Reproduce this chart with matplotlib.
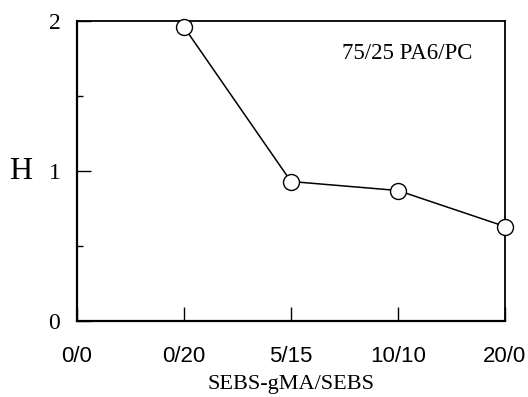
import matplotlib.pyplot as plt
import numpy as np

ratios = ['0/0', '0/20', '5/15', '10/10', '20/0']
x_pos = [1, 2, 3, 4]
h_values = [1.96, 0.93, 0.87, 0.63]

fig = plt.figure(figsize=(5.28, 3.97), dpi=100)
ax = fig.add_axes([0.1458, 0.1914, 0.8106, 0.7557])

ax.plot(x_pos, h_values, color='black', lw=1.1, marker='o', ms=11.5,
        mfc='white', mec='black', mew=1.0, clip_on=False, zorder=5)

ax.set_xlim(0, 4)
ax.set_ylim(0, 2)
ax.set_xticks(range(len(ratios)))
ax.set_xticklabels(ratios, fontfamily='Liberation Sans', fontsize=16)
ax.set_yticks([0, 1, 2])
ax.set_yticklabels(['0', '1', '2'], fontfamily='Liberation Serif', fontsize=17)
ax.set_yticks([0.5, 1.5], minor=True)

ax.tick_params(axis='x', direction='in', length=10, width=1, pad=18)
ax.tick_params(axis='y', which='major', direction='in', length=10, width=1, pad=12)
ax.tick_params(axis='y', which='minor', direction='in', length=4, width=1)

for side in ['left', 'bottom']:
    ax.spines[side].set_linewidth(1.6)
for side in ['top', 'right']:
    ax.spines[side].set_linewidth(1.3)

ax.set_xlabel('SEBS-gMA/SEBS', fontfamily='Liberation Serif', fontsize=16, labelpad=6)
ax.set_ylabel('H', fontfamily='Liberation Serif', fontsize=23, rotation=0,
              ha='center', va='center')
ax.yaxis.set_label_coords(-0.131, 0.5)

ax.text(0.923, 0.893, '75/25 PA6/PC', transform=ax.transAxes, ha='right', va='center',
        fontfamily='Liberation Serif', fontsize=16.5)

plt.savefig('out.png', dpi=100)
